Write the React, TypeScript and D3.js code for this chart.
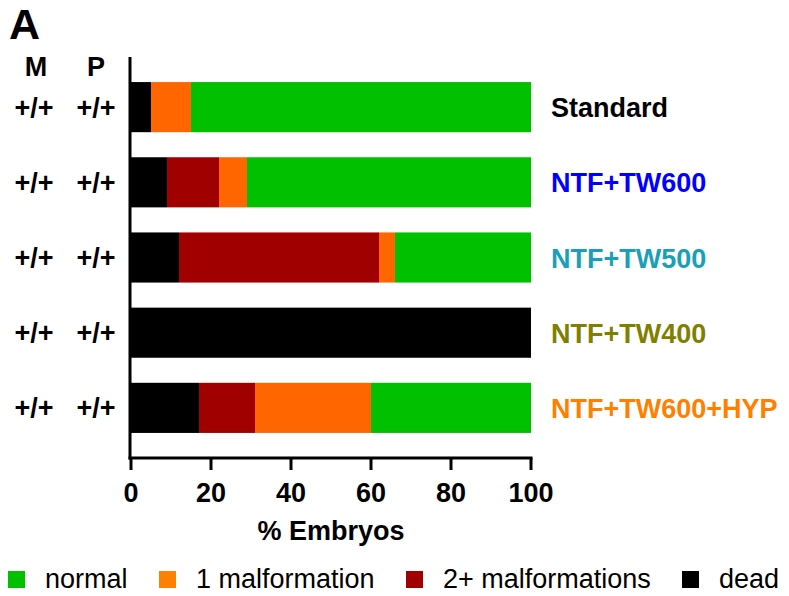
import React, { useEffect, useRef } from 'react';
import * as d3 from 'd3';

const groups = ['Standard', 'NTF+TW600', 'NTF+TW500', 'NTF+TW400', 'NTF+TW600+HYP'];
const groupColors = ['#000000', '#0000ff', '#1a9fb8', '#808000', '#ff8000'];
const maternal = ['+/+', '+/+', '+/+', '+/+', '+/+'];
const paternal = ['+/+', '+/+', '+/+', '+/+', '+/+'];

const dead = [5, 9, 12, 100, 17];
const twoPlus = [0, 13, 50, 0, 14];
const oneMal = [10, 7, 4, 0, 29];
const normal = [85, 71, 34, 0, 40];

const seriesKeys = ['dead', 'twoPlus', 'oneMal', 'normal'];
const barColors = ['#000000', '#a00000', '#ff6600', '#00c000'];

const legendLabels = ['normal', '1 malformation', '2+ malformations', 'dead'];
const legendColors = ['#00c000', '#ff8000', '#a00000', '#000000'];

const xTicks = [0, 20, 40, 60, 80, 100];

const FONT = 'Arial, "Liberation Sans", sans-serif';

export default function App() {
  const ref = useRef<SVGSVGElement>(null);

  useEffect(() => {
    const svg = d3.select(ref.current);
    svg.selectAll('*').remove();

    const rows = groups.map((g, i) => ({
      group: g,
      dead: dead[i],
      twoPlus: twoPlus[i],
      oneMal: oneMal[i],
      normal: normal[i],
    }));

    const x = d3.scaleLinear().domain([0, 100]).range([131, 531]);
    const y = d3.scaleBand().domain(groups).range([57, 458]).paddingInner(1 / 3).paddingOuter(1 / 3);

    const stack = d3.stack<any>().keys(seriesKeys);
    const layers = stack(rows);

    // bars
    svg.append('g')
      .selectAll('g')
      .data(layers)
      .enter()
      .append('g')
      .attr('fill', (d, i) => barColors[i])
      .selectAll('rect')
      .data(d => d)
      .enter()
      .append('rect')
      .attr('x', d => x(d[0]))
      .attr('y', d => y(d.data.group)!)
      .attr('width', d => x(d[1]) - x(d[0]))
      .attr('height', y.bandwidth());

    // axes
    const axisG = svg.append('g');
    axisG.append('line')
      .attr('x1', 130).attr('x2', 130)
      .attr('y1', 57).attr('y2', 459.5)
      .attr('stroke', '#000').attr('stroke-width', 3);
    axisG.append('line')
      .attr('x1', 128.5).attr('x2', x(100) + 1.5)
      .attr('y1', 458).attr('y2', 458)
      .attr('stroke', '#000').attr('stroke-width', 3);
    axisG.selectAll('.tick')
      .data(xTicks)
      .enter()
      .append('line')
      .attr('x1', d => x(d)).attr('x2', d => x(d))
      .attr('y1', 458).attr('y2', 470)
      .attr('stroke', '#000').attr('stroke-width', 3);
    axisG.selectAll('.ticklabel')
      .data(xTicks)
      .enter()
      .append('text')
      .attr('x', d => x(d))
      .attr('y', 502)
      .attr('text-anchor', 'middle')
      .attr('font-family', FONT)
      .attr('font-weight', 'bold')
      .attr('font-size', 27)
      .text(d => d);
    axisG.append('text')
      .attr('x', x(50))
      .attr('y', 540)
      .attr('text-anchor', 'middle')
      .attr('font-family', FONT)
      .attr('font-weight', 'bold')
      .attr('font-size', 27)
      .text('% Embryos');

    // panel letter and genotype headers
    svg.append('text')
      .attr('x', 9).attr('y', 39)
      .attr('font-family', FONT).attr('font-weight', 'bold').attr('font-size', 43)
      .text('A');
    svg.append('text')
      .attr('x', 36).attr('y', 76).attr('text-anchor', 'middle')
      .attr('font-family', FONT).attr('font-weight', 'bold').attr('font-size', 27)
      .text('M');
    svg.append('text')
      .attr('x', 96).attr('y', 76).attr('text-anchor', 'middle')
      .attr('font-family', FONT).attr('font-weight', 'bold').attr('font-size', 27)
      .text('P');

    const mid = (g: string) => y(g)! + y.bandwidth() / 2;

    svg.append('g').selectAll('text')
      .data(groups)
      .enter()
      .append('text')
      .attr('x', 34).attr('y', d => mid(d) + 9.5)
      .attr('text-anchor', 'middle')
      .attr('font-family', FONT).attr('font-weight', 'bold').attr('font-size', 27)
      .text((d, i) => maternal[i]);
    svg.append('g').selectAll('text')
      .data(groups)
      .enter()
      .append('text')
      .attr('x', 96).attr('y', d => mid(d) + 9.5)
      .attr('text-anchor', 'middle')
      .attr('font-family', FONT).attr('font-weight', 'bold').attr('font-size', 27)
      .text((d, i) => paternal[i]);

    // condition labels
    svg.append('g').selectAll('text')
      .data(groups)
      .enter()
      .append('text')
      .attr('x', 551).attr('y', d => mid(d) + 10)
      .attr('fill', (d, i) => groupColors[i])
      .attr('font-family', FONT).attr('font-weight', 'bold').attr('font-size', 27)
      .text(d => d);

    // legend
    const legendX = [8, 159, 406, 682];
    const lg = svg.append('g').selectAll('g')
      .data(legendLabels)
      .enter()
      .append('g')
      .attr('transform', (d, i) => `translate(${legendX[i]},0)`);
    lg.append('rect')
      .attr('x', 0).attr('y', 571)
      .attr('width', 17).attr('height', 17)
      .attr('fill', (d, i) => legendColors[i]);
    lg.append('text')
      .attr('x', (d, i) => (i === 0 ? 37 : 37))
      .attr('y', 588)
      .attr('font-family', FONT).attr('font-size', 27)
      .text(d => d);
  }, []);

  return (
    <svg
      ref={ref}
      width={789}
      height={596}
      style={{ position: 'absolute', left: 0, top: 0, background: '#fff' }}
    />
  );
}
